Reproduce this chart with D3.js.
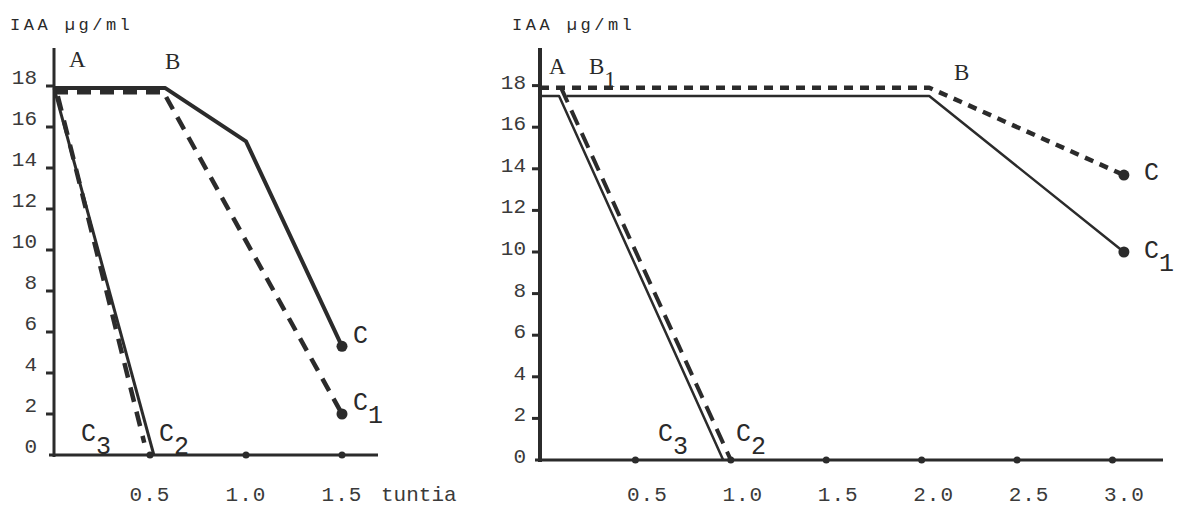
<!DOCTYPE html>
<html lang="fi">
<head>
<meta charset="UTF-8">
<title>IAA</title>
<script src="https://d3js.org/d3.v7.min.js"></script>
<style>
  body { margin: 0; background: #fff; }
  svg { display: block; }
  .tick-label { font-family: "Liberation Mono", monospace; fill: #3a3a3a; }
  .title { font-family: "Liberation Mono", monospace; fill: #2a2a2a; }
  .pt-serif { font-family: "Liberation Serif", serif; fill: #2a2a2a; }
  .pt-mono { font-family: "Liberation Mono", monospace; fill: #2a2a2a; }
</style>
</head>
<body>
<svg id="chart" width="1180" height="506"></svg>
<script>
// y ticks (IAA µg/ml), same for both panels
const yTicks = [0, 2, 4, 6, 8, 10, 12, 14, 16, 18];

// left panel: time (tuntia)
const leftXTicks = [0.5, 1.0, 1.5];
const leftSolidABC = [[0, 17.9], [0.58, 17.9], [1.0, 15.3], [1.5, 5.3]];
const leftDashedABC1 = [[0, 17.7], [0.57, 17.7], [1.5, 2.0]];
const leftSolidAC2 = [[0, 17.9], [0.52, 0]];
const leftDashedAC3 = [[0.02, 17.5], [0.47, 0.6]];
const leftDots = [[1.5, 5.3], [1.5, 2.0]];

// right panel
const rightXTicks = [0.5, 1.0, 1.5, 2.0, 2.5, 3.0];
const rightDashedABC = [[0, 17.9], [2.04, 17.9], [3.06, 13.7]];
const rightSolidBC1 = [[0.14, 17.5], [2.04, 17.5], [3.06, 10.0]];
const rightSolidAC3 = [[0, 17.5], [0.1, 17.5], [0.96, 0]];
const rightDashedB1C2 = [[0.11, 17.9], [1.0, 0]];
const rightDots = [[3.06, 13.7], [3.06, 10.0]];

const svg = d3.select("#chart");
const ink = "#2b2b2b";

function panel(opt) {
  const g = svg.append("g");
  const x = d3.scaleLinear().domain(opt.xDomain).range(opt.xRange);
  const y = d3.scaleLinear().domain([0, 18]).range([opt.y0, opt.y0 - 18 * opt.yUnit]);
  const line = d3.line().x(d => x(d[0])).y(d => y(d[1]));

  // axes
  g.append("line")
    .attr("x1", x(0)).attr("x2", x(0))
    .attr("y1", opt.yTop).attr("y2", y(0) + 2)
    .attr("stroke", ink).attr("stroke-width", opt.axisW);
  g.append("line")
    .attr("x1", x(0) - 5).attr("x2", opt.xEnd)
    .attr("y1", y(0)).attr("y2", y(0))
    .attr("stroke", ink).attr("stroke-width", 3);

  // y ticks + labels
  g.selectAll(".ytick").data(yTicks.filter(d => d > 0)).join("line")
    .attr("x1", x(0) - 8).attr("x2", x(0))
    .attr("y1", d => y(d)).attr("y2", d => y(d))
    .attr("stroke", ink).attr("stroke-width", 3);
  g.selectAll(".ylab").data(yTicks).join("text")
    .attr("class", "tick-label")
    .attr("x", opt.yLabelX)
    .attr("y", d => y(d) + opt.yLabelDy)
    .attr("text-anchor", "end")
    .attr("font-size", 21)
    .text(d => d);

  // x ticks (dots) + labels
  g.selectAll(".xdot").data(opt.xTicks).join("circle")
    .attr("cx", d => x(d)).attr("cy", y(0)).attr("r", 3.5)
    .attr("fill", ink);
  g.selectAll(".xlab").data(opt.xTicks).join("text")
    .attr("class", "tick-label")
    .attr("x", d => x(d) + opt.xLabelDx)
    .attr("y", 501)
    .attr("text-anchor", "middle")
    .attr("font-size", 21)
    .attr("letter-spacing", 1)
    .text(d => d.toFixed(1));
  if (opt.xTitle) {
    g.append("text").attr("class", "tick-label")
      .attr("x", opt.xTitleX).attr("y", 501)
      .attr("font-size", 21).attr("letter-spacing", 0)
      .text(opt.xTitle);
  }

  // title
  g.append("text").attr("class", "title")
    .attr("x", opt.titleX).attr("y", 30)
    .attr("font-size", 17).attr("letter-spacing", 3.5)
    .text("IAA µg/ml");

  // series
  opt.series.forEach(s => {
    g.append("path").datum(s.data)
      .attr("d", line)
      .attr("fill", "none")
      .attr("stroke", ink)
      .attr("stroke-width", s.w)
      .attr("stroke-linejoin", "round")
      .attr("stroke-dasharray", s.dash || null);
  });
  g.selectAll(".end").data(opt.dots).join("circle")
    .attr("cx", d => x(d[0])).attr("cy", d => y(d[1])).attr("r", 5.5)
    .attr("fill", ink);

  // point labels
  opt.labels.forEach(l => {
    const t = g.append("text")
      .attr("class", l.serif ? "pt-serif" : "pt-mono")
      .attr("x", l.x).attr("y", l.y)
      .attr("font-size", l.serif ? 23 : 25)
      .text(l.t);
    if (l.sub) t.append("tspan").attr("dx", 0).attr("dy", 13).text(l.sub);
  });

  return { x, y };
}

panel({
  xDomain: [0, 1.5], xRange: [54, 342], xEnd: 378,
  y0: 455, yUnit: 20.5, yTop: 48, axisW: 3,
  yLabelX: 37, yLabelDy: -2, xTicks: leftXTicks, xLabelDx: 0,
  xTitle: "tuntia", xTitleX: 381,
  titleX: 10,
  series: [
    { data: leftSolidABC, w: 4 },
    { data: leftDashedABC1, w: 4.5, dash: "14 9" },
    { data: leftSolidAC2, w: 3 },
    { data: leftDashedAC3, w: 4.5, dash: "15 10" }
  ],
  dots: leftDots,
  labels: [
    { t: "A", x: 69, y: 67, serif: true },
    { t: "B", x: 165, y: 69, serif: true },
    { t: "C", x: 353, y: 343 },
    { t: "C", x: 353, y: 410, sub: "1" },
    { t: "C", x: 81, y: 441, sub: "3" },
    { t: "C", x: 159, y: 441, sub: "2" }
  ]
});

panel({
  xDomain: [0, 3.05], xRange: [540, 1122], xEnd: 1163,
  y0: 460, yUnit: 20.8, yTop: 48, axisW: 4,
  yLabelX: 526, yLabelDy: 3, xTicks: rightXTicks, xLabelDx: 12,
  titleX: 512,
  series: [
    { data: rightDashedABC, w: 4.5, dash: "9 7" },
    { data: rightSolidBC1, w: 2.5 },
    { data: rightSolidAC3, w: 2.5 },
    { data: rightDashedB1C2, w: 4, dash: "16 9" }
  ],
  dots: rightDots,
  labels: [
    { t: "A", x: 549, y: 74, serif: true },
    { t: "B", x: 589, y: 74, serif: true, sub: "1" },
    { t: "B", x: 954, y: 80, serif: true },
    { t: "C", x: 1144, y: 180 },
    { t: "C", x: 1144, y: 258, sub: "1" },
    { t: "C", x: 658, y: 441, sub: "3" },
    { t: "C", x: 736, y: 441, sub: "2" }
  ]
});
</script>
</body>
</html>
